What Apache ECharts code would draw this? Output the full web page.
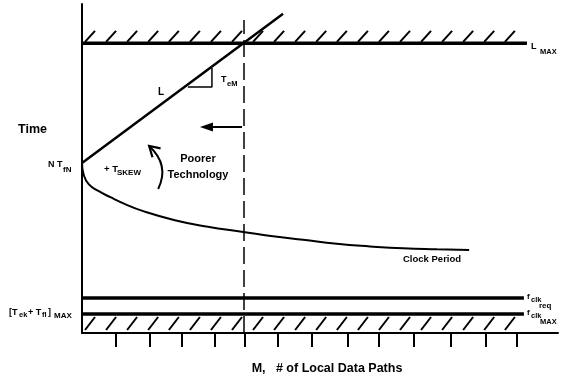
<!DOCTYPE html>
<html><head><meta charset="utf-8">
<script src="https://cdn.jsdelivr.net/npm/echarts@6/dist/echarts.min.js"></script>
<style>html,body{margin:0;padding:0;background:#fff}#c{width:563px;height:381px}</style>
</head><body><div id="c"></div>
<script>
// ---- data (x = M, # of local data paths; y = time, arbitrary units) ----
const xTicks = [1.02, 2.04, 2.99, 3.98, 4.88, 5.87, 6.89, 7.96, 8.89, 9.94, 11.05, 12.10, 13.02];
const lMax = [[0, 88.3], [13.32, 88.3]];
const fclkReq = [[0, 10.67], [13.23, 10.67]];
const fclkMax = [[0, 5.79], [13.23, 5.79]];
const lineL = [[0, 51.8], [6.02, 97.3]];
const clockPeriod = [[0, 51.8], [0.05, 48.3], [0.2, 45.4], [0.49, 43.3], [0.85, 41.4], [1.29, 39.3], [1.79, 37.3], [2.78, 34.4], [3.77, 32.4], [4.78, 30.9], [5.78, 29.4], [6.62, 28.4], [7.63, 27.2], [8.62, 26.4], [9.61, 25.8], [10.63, 25.5], [11.59, 25.3]];
const dashedM = [[4.85, 0], [4.85, 95.4]];
const slopeTriangle = [[3.17, 75.0], [3.89, 75.0], [3.89, 80.8]];
const arrowLeft = [[4.79, 62.8], [3.53, 62.8]];
const skewArrow = [[2.28, 43.9], [2.63, 51.2], [2.01, 57.0]]; // start, control, tip
const hatchX = [0.09, 0.72, 1.35, 1.98, 2.60, 3.23, 3.86, 4.49, 5.12, 5.75, 6.38, 7.01, 7.63, 8.26, 8.89, 9.52, 10.15, 10.78, 11.41, 12.04, 12.66];

const FONT = "'Liberation Sans', Arial, Helvetica, sans-serif";
const BLACK = '#000';

function plainLine(data, width, extra) {
  return Object.assign({
    type: 'line', data: data, symbol: 'none', silent: true, animation: false,
    lineStyle: { color: BLACK, width: width }
  }, extra || {});
}
function hatchSeries(level, dy1, dy2) {
  return {
    type: 'custom', silent: true, animation: false, clip: false,
    data: hatchX.map(v => [v, level]),
    renderItem: function (params, api) {
      const p = api.coord([api.value(0), api.value(1)]);
      return { type: 'line', shape: { x1: p[0], y1: p[1] + dy1, x2: p[0] + 10, y2: p[1] + dy2 },
        style: { stroke: BLACK, lineWidth: 2 } };
    }
  };
}
function txt(x, y, text, size, extra) {
  return {
    type: 'text', x: x, y: y, silent: true,
    style: Object.assign({ text: text, font: 'bold ' + size + 'px ' + FONT, fill: BLACK,
      align: 'left', verticalAlign: 'middle' }, extra || {})
  };
}

const chart = echarts.init(document.getElementById('c'), null, { renderer: 'canvas' });
chart.setOption({
  backgroundColor: '#fff',
  animation: false,
  grid: { left: 82, top: 4, width: 476, height: 329 },
  xAxis: {
    type: 'value', min: 0, max: 14.25,
    axisLine: { show: true, onZero: false, lineStyle: { color: BLACK, width: 2 } },
    axisTick: { show: true, customValues: xTicks, length: 14, inside: false, lineStyle: { color: BLACK, width: 2 } },
    axisLabel: { show: false }, splitLine: { show: false }
  },
  yAxis: {
    type: 'value', min: 0, max: 100.3,
    axisLine: { show: true, lineStyle: { color: BLACK, width: 2 } },
    axisTick: { show: false }, axisLabel: { show: false }, splitLine: { show: false }
  },
  series: [
    plainLine(dashedM, 1.5, { lineStyle: { color: BLACK, width: 1.5, type: [17, 6] } }),
    plainLine(lMax, 3.5),
    plainLine(fclkReq, 3.5),
    plainLine(fclkMax, 3.5),
    hatchSeries(lMax[0][1], -1.5, -12.5),
    hatchSeries(fclkMax[0][1], 16, 3),
    plainLine(lineL, 2.5),
    plainLine(clockPeriod, 2, { smooth: 0.5 }),
    plainLine(slopeTriangle, 1.5),
    {
      type: 'custom', silent: true, animation: false, clip: false, data: [[0, 0]],
      renderItem: function (params, api) {
        const a = api.coord(arrowLeft[0]), b = api.coord(arrowLeft[1]);
        const s = api.coord(skewArrow[0]), c = api.coord(skewArrow[1]), t = api.coord(skewArrow[2]);
        let dx = t[0] - c[0], dy = t[1] - c[1];
        const len = Math.hypot(dx, dy); dx /= len; dy /= len;
        const nx = -dy, ny = dx, L = 10, W = 6;
        return { type: 'group', children: [
          { type: 'line', shape: { x1: a[0], y1: a[1], x2: b[0] + 8, y2: b[1] }, style: { stroke: BLACK, lineWidth: 2 } },
          { type: 'polygon', shape: { points: [[b[0], b[1]], [b[0] + 13, b[1] - 4.5], [b[0] + 13, b[1] + 4.5]] }, style: { fill: BLACK } },
          { type: 'bezierCurve', shape: { x1: s[0], y1: s[1], x2: t[0], y2: t[1], cpx1: c[0], cpy1: c[1] }, style: { stroke: BLACK, lineWidth: 2, fill: null } },
          { type: 'polyline', shape: { points: [
            [t[0] - dx * L + nx * W, t[1] - dy * L + ny * W], [t[0], t[1]], [t[0] - dx * L - nx * W, t[1] - dy * L - ny * W]] },
            style: { stroke: BLACK, lineWidth: 2.2, fill: null } }
        ] };
      }
    }
  ],
  graphic: [
    txt(18, 130, 'Time', 12.5),
    txt(48, 165, 'N T', 9),
    txt(63, 170, 'fN', 8),
    txt(158, 92, 'L', 10),
    txt(221, 80, 'T', 9),
    txt(227, 84, 'eM', 7.5),
    txt(104, 169, '+ T', 9.5),
    txt(117, 173, 'SKEW', 8),
    txt(198, 159, 'Poorer', 11, { align: 'center' }),
    txt(198, 175, 'Technology', 11, { align: 'center' }),
    txt(403, 259, 'Clock Period', 9.5),
    txt(531, 47, 'L', 9),
    txt(540, 52, 'MAX', 7.5),
    txt(527, 297, 'f', 8),
    txt(531, 300, 'clk', 7.5),
    txt(539, 306, 'req', 8),
    txt(527, 313, 'f', 8),
    txt(531, 316, 'clk', 7.5),
    txt(540, 322, 'MAX', 7.5),
    txt(9, 313, '[T', 9),
    txt(19, 315, 'ek', 7.5),
    txt(28, 313, '+ T', 9),
    txt(42, 315, 'fl', 7.5),
    txt(48, 313, ']', 9),
    txt(54, 316, 'MAX', 8),
    txt(327, 369, 'M,   # of Local Data Paths', 12.5, { align: 'center' })
  ]
});
</script></body></html>
